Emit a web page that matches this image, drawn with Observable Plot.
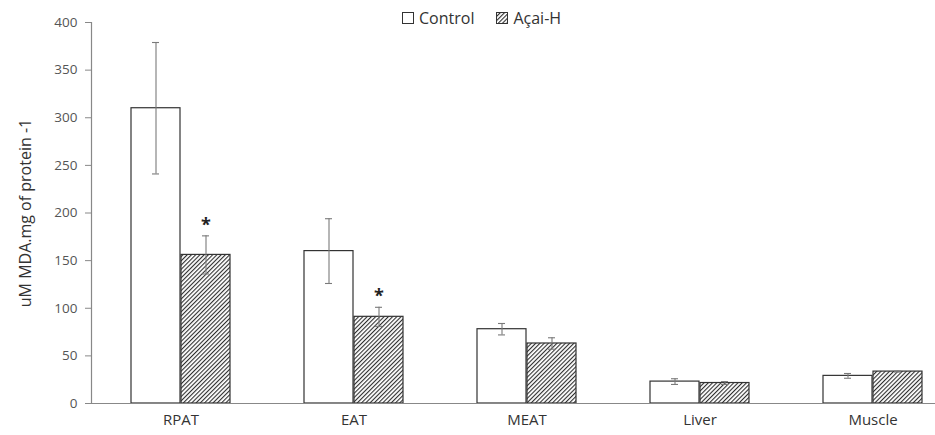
<!DOCTYPE html>
<html><head><meta charset="utf-8">
<script src="https://cdn.jsdelivr.net/npm/d3@7"></script>
<script src="https://cdn.jsdelivr.net/npm/@observablehq/plot@0.6"></script>
<style>
body{margin:0;overflow:hidden;background:#fff;font-family:"Open Sans",Lato,sans-serif}
#wrap{position:relative;width:935px;height:435px}
#legend{position:absolute;top:7px;left:402px;font-size:16px;color:#333;display:flex;align-items:center;white-space:nowrap}
#legend span.item{display:flex;align-items:center;margin-right:22px}
#legend svg{margin-right:5px}
</style></head>
<body>
<div id="wrap">
<div id="legend">
  <span class="item"><svg width="12" height="12"><rect x="0.5" y="0.5" width="11" height="11" fill="#fff" stroke="#333"/></svg>Control</span>
  <span class="item"><svg width="12" height="12"><defs><pattern id="hatchL" patternUnits="userSpaceOnUse" width="3" height="10" patternTransform="rotate(45)"><rect width="3" height="10" fill="#fff"/><line x1="0" y1="0" x2="0" y2="10" stroke="#2e2e2e" stroke-width="2.2"/></pattern></defs><rect x="0.5" y="0.5" width="11" height="11" fill="url(#hatchL)" stroke="#333"/></svg>Açai-H</span>
</div>
</div>
<script>
const categories = ["RPAT", "EAT", "MEAT", "Liver", "Muscle"];
const controlMean = [310, 160, 78, 23, 29];
const controlErr  = [69, 34, 6, 3, 2.5];
const acaiMean    = [156, 91, 63, 21.5, 33.5];
const acaiErr     = [20, 10, 6, 1.5, 0.5];
const significant = [true, true, false, false, false];
const yTicks = [0, 50, 100, 150, 200, 250, 300, 350, 400];
const groups = ["Control", "Açai-H"];

const rows = [];
categories.forEach((c, i) => {
  rows.push({cat: c, group: groups[0], mean: controlMean[i], err: controlErr[i], sig: false});
  rows.push({cat: c, group: groups[1], mean: acaiMean[i], err: acaiErr[i], sig: significant[i]});
});
const ctrl = rows.filter(d => d.group === "Control");
const acai = rows.filter(d => d.group === "Açai-H");

const font = "'Open Sans', Lato, sans-serif";
const errStroke = "#7a7a7a";
const shift = 25;
const errMarks = (data, dx) => [
  Plot.ruleX(data, {x: "cat", y1: d => d.mean - d.err, y2: d => d.mean + d.err, dx, stroke: errStroke, strokeWidth: 1.1}),
  Plot.tickY(data, {x: "cat", y: d => d.mean + d.err, dx, insetLeft: 83, insetRight: 83, stroke: errStroke, strokeWidth: 1.1}),
  Plot.tickY(data, {x: "cat", y: d => d.mean - d.err, dx, insetLeft: 83, insetRight: 83, stroke: errStroke, strokeWidth: 1.1})
];

const chart = Plot.plot({
  width: 935, height: 435,
  marginLeft: 91, marginRight: 0, marginTop: 22, marginBottom: 32,
  style: {fontFamily: font, background: "transparent", overflow: "visible"},
  x: {domain: categories, range: [92, 961], padding: 0},
  y: {domain: [0, 400]},
  marks: [
    Plot.barY(ctrl, {x: "cat", y: "mean", insetLeft: 37, insetRight: 87, fill: "#fff", stroke: "#333", strokeWidth: 1.2}),
    Plot.barY(acai, {x: "cat", y: "mean", insetLeft: 87, insetRight: 37, fill: "url(#hatch)", stroke: "#333", strokeWidth: 1.2}),
    ...errMarks(ctrl, -shift),
    ...errMarks(acai, shift),
    Plot.text(acai.filter(d => d.sig), {x: "cat", y: d => d.mean + d.err, dx: shift, dy: -11, text: () => "*", fontSize: 18, fontWeight: "bold", fill: "#222"}),
    Plot.ruleY([0], {stroke: "#888", strokeWidth: 1.2}),
    Plot.frame({anchor: "left", stroke: "#888", strokeWidth: 1.2}),
    Plot.axisY({ticks: yTicks, tickFormat: d => String(d), tickSize: 6, tickPadding: 8, fontSize: 13.5, color: "#555", stroke: "#888", label: null}),
    Plot.axisY({ticks: [], label: "uM MDA.mg of protein -1", labelAnchor: "center", labelArrow: "none", labelOffset: 72, fontSize: 16, color: "#333"}),
    Plot.axisX({tickSize: 0, tickPadding: 11, fontSize: 15, color: "#333", label: null})
  ]
});

// inject hatch pattern
const ns = "http://www.w3.org/2000/svg";
const defs = document.createElementNS(ns, "defs");
defs.innerHTML = '<pattern id="hatch" patternUnits="userSpaceOnUse" width="3" height="10" patternTransform="rotate(45)"><rect width="3" height="10" fill="#fff"/><line x1="0" y1="0" x2="0" y2="10" stroke="#2e2e2e" stroke-width="2.2"/></pattern>';
chart.insertBefore(defs, chart.firstChild);
document.getElementById("wrap").appendChild(chart);
</script>
</body></html>
